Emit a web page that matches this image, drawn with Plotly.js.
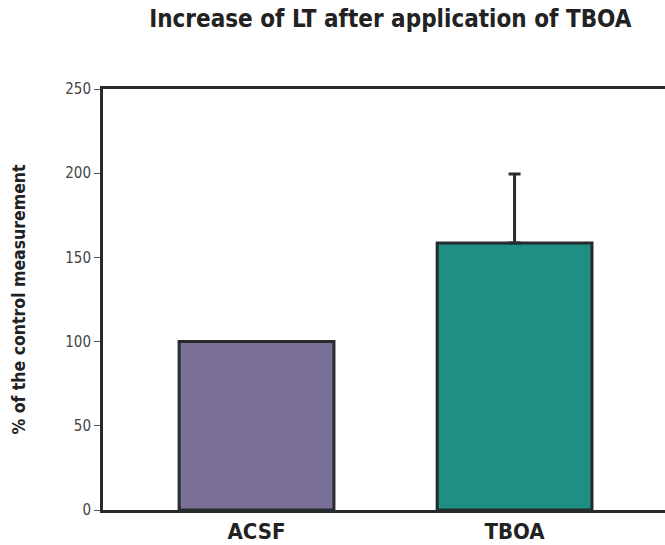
<!DOCTYPE html>
<html>
<head>
<meta charset="utf-8">
<script src="https://cdn.plot.ly/plotly-3.0.1.min.js"></script>
<style>html,body{margin:0;padding:0;background:#fff;}#chart{width:665px;height:545px;}</style>
</head>
<body>
<div id="chart"></div>
<script>
const categories = ["ACSF", "TBOA"];
const values = [100, 158.5];
const errorsUp = [0, 41];
const barColors = ["#7a6f96", "#1f8f84"];
const yTicks = [0, 50, 100, 150, 200, 250];

const narrow = "'Liberation Sans Narrow', 'DejaVu Sans Condensed', Arial, sans-serif";
const dark = "#262b2d";

const trace = {
  type: "bar",
  x: [0, 1],
  y: values,
  width: 0.6,
  marker: { color: barColors, line: { color: dark, width: 3 } },
  error_y: { type: "data", symmetric: false, array: errorsUp, arrayminus: [0, 0], visible: true, color: dark, thickness: 3, width: 6 },
  hoverinfo: "none"
};

const layout = {
  width: 665, height: 545,
  margin: { l: 103, r: 0, t: 89, b: 35, pad: 0 },
  paper_bgcolor: "#fff", plot_bgcolor: "#fff",
  showlegend: false,
  title: {
    text: "Increase of LT after application of TBOA",
    font: { family: narrow, size: 24, color: "#222", weight: "bold" },
    x: 0.587, xanchor: "center", y: 0.965, yanchor: "middle"
  },
  xaxis: {
    range: [-0.595, 1.583],
    tickvals: [0, 1], ticktext: categories,
    tickfont: { family: narrow, size: 22, color: "#222", weight: "bold" },
    showline: true, linecolor: dark, linewidth: 3, mirror: true,
    ticks: "", showgrid: false, zeroline: false, fixedrange: true
  },
  yaxis: {
    range: [0, 250],
    tickvals: yTicks,
    tickfont: { family: narrow, size: 15, color: "#444" },
    ticks: "outside", ticklen: 6, tickwidth: 1, tickcolor: "#555",
    showline: true, linecolor: dark, linewidth: 3,
    showgrid: false, zeroline: false, fixedrange: true,
    title: { text: "% of the control measurement", font: { family: narrow, size: 17.5, color: "#222", weight: "bold" }, standoff: 36 }
  }
};

Plotly.newPlot("chart", [trace], layout, { staticPlot: true });
</script>
</body>
</html>
